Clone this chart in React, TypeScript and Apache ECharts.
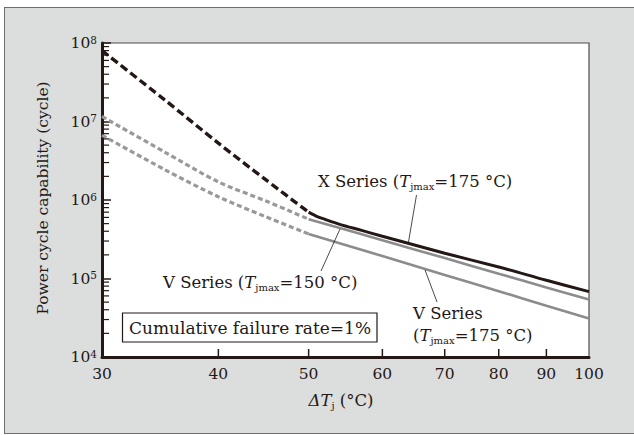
import React, { useEffect, useRef } from 'react';
import * as echarts from 'echarts';

// ---- data ----
const DASHED_T = [30, 35, 40, 45, 50];
const X_SERIES_DASHED = [8.0e7, 1.9e7, 5.3e6, 1.8e6, 7.0e5];
const X_SERIES_T = [50, 51, 52, 54, 57, 60, 70, 80, 90, 100];
const X_SERIES_SOLID = [7.0e5, 6.2e5, 5.7e5, 4.9e5, 4.1e5, 3.45e5, 2.1e5, 1.4e5, 9.5e4, 6.8e4];
const V_T = [50, 60, 70, 80, 90, 100];
const V150_DASHED = [1.16e7, 4.1e6, 1.7e6, 9.7e5, 5.7e5];
const V150_SOLID = [5.7e5, 3.07e5, 1.82e5, 1.15e5, 7.7e4, 5.4e4];
const V175_DASHED = [6.7e6, 2.45e6, 1.1e6, 6.1e5, 3.7e5];
const V175_SOLID = [3.7e5, 1.93e5, 1.11e5, 6.9e4, 4.5e4, 3.1e4];
const X_TICKS = [30, 40, 50, 60, 70, 80, 90, 100];
const Y_DECADES = [1e4, 1e5, 1e6, 1e7];
const Y_MINOR_STEPS = [2, 3, 4, 5, 6, 7, 8, 9];

const F = '"DejaVu Serif", "Liberation Serif", serif';
const INK = '#231815';
const GRAY = '#8c8c8c';
const GRAY_D = '#999999';

const rich = {
  r: { fontSize: 16.5, fontFamily: F, color: INK, lineHeight: 21 },
  i: { fontSize: 16.5, fontFamily: F, color: INK, fontStyle: 'italic', lineHeight: 21 },
  sub: { fontSize: 10, fontFamily: F, color: INK, verticalAlign: 'bottom', lineHeight: 13 },
};

const pair = (xs: number[], ys: number[]) => xs.map((x, i) => [x, ys[i]]);

export default function App() {
  const ref = useRef<HTMLDivElement>(null);
  useEffect(() => {
    if (!ref.current) return;
    const chart = echarts.init(ref.current, undefined, { renderer: 'svg' });
    const yMinor: number[][] = [];
    Y_DECADES.forEach((d) => Y_MINOR_STEPS.forEach((k) => yMinor.push([30, d * k])));

    const line = (name: string, data: number[][], color: string, width: number, dash: any) => ({
      type: 'line',
      name,
      data,
      showSymbol: false,
      symbol: 'none',
      smooth: 0.3,
      z: 3,
      lineStyle: { color, width, type: dash || 'solid', cap: 'butt' },
    });

    const txt = (x: number, y: number, text: string, extra: any = {}) => ({
      type: 'text',
      x,
      y,
      z: 20,
      style: { text, rich, fontSize: 16.5, fontFamily: F, fill: INK, align: 'left', verticalAlign: 'middle', ...extra },
    });
    const ptr = (x1: number, y1: number, x2: number, y2: number) => ({
      type: 'line',
      z: 20,
      shape: { x1, y1, x2, y2 },
      style: { stroke: INK, lineWidth: 0.8 },
    });

    chart.setOption({
      animation: false,
      grid: {
        left: 102,
        top: 43,
        width: 487,
        height: 314,
        show: true,
        backgroundColor: '#ffffff',
        borderColor: '#4d4d4d',
        borderWidth: 1.2,
      },
      xAxis: {
        type: 'log',
        logBase: 10,
        min: 30,
        max: 100,
        axisLine: { show: true, onZero: false, lineStyle: { color: INK, width: 3 } },
        axisTick: { show: false },
        axisLabel: { show: false },
        splitLine: { show: false },
        minorTick: { show: false },
      },
      yAxis: {
        type: 'log',
        logBase: 10,
        min: 1e4,
        max: 1e8,
        axisLine: { show: true, onZero: false, lineStyle: { color: INK, width: 3 } },
        axisTick: { show: true, inside: true, length: 9, lineStyle: { color: INK, width: 1.5 } },
        axisLabel: {
          margin: 5,
          formatter: (v: number) => `{b|10}{s|${Math.round(Math.log10(v))}}`,
          rich: {
            b: { fontSize: 15.5, fontFamily: F, color: INK, lineHeight: 18 },
            s: { fontSize: 10.5, fontFamily: F, color: INK, verticalAlign: 'top', lineHeight: 11 },
          },
        },
        splitLine: { show: false },
      },
      series: [
        line('X Series dashed', pair(DASHED_T, X_SERIES_DASHED), INK, 3.4, [8, 4]),
        line('X Series', pair(X_SERIES_T, X_SERIES_SOLID), INK, 3, null),
        line('V Series 150 dashed', pair(DASHED_T, V150_DASHED), GRAY_D, 3.2, [5, 3]),
        line('V Series 150', pair(V_T, V150_SOLID), GRAY, 2.6, null),
        line('V Series 175 dashed', pair(DASHED_T, V175_DASHED), GRAY_D, 3.2, [5, 3]),
        line('V Series 175', pair(V_T, V175_SOLID), GRAY, 2.6, null),
        {
          type: 'custom',
          name: 'x ticks',
          coordinateSystem: 'cartesian2d',
          silent: true,
          clip: false,
          z: 10,
          encode: { x: 0, y: 1 },
          data: X_TICKS.map((v) => [v, 1e4]),
          renderItem: (params: any, api: any) => {
            const v = api.value(0);
            const p = api.coord([v, 1e4]);
            const children: any[] = [];
            if (v !== X_TICKS[0] && v !== X_TICKS[X_TICKS.length - 1]) {
              children.push({
                type: 'line',
                shape: { x1: p[0], y1: p[1], x2: p[0], y2: p[1] - 8 },
                style: { stroke: INK, lineWidth: 1.5 },
              });
            }
            children.push({
              type: 'text',
              style: {
                text: String(v),
                x: p[0],
                y: p[1] + 17,
                align: 'center',
                verticalAlign: 'middle',
                fontSize: 15.5,
                fontFamily: F,
                fill: INK,
              },
            });
            return { type: 'group', children };
          },
        },
        {
          type: 'custom',
          name: 'y minor ticks',
          coordinateSystem: 'cartesian2d',
          silent: true,
          clip: false,
          z: 10,
          encode: { x: 0, y: 1 },
          data: yMinor,
          renderItem: (params: any, api: any) => {
            const p = api.coord([api.value(0), api.value(1)]);
            return {
              type: 'line',
              shape: { x1: p[0], y1: p[1], x2: p[0] + 7, y2: p[1] },
              style: { stroke: INK, lineWidth: 1.2 },
            };
          },
        },
      ],
      graphic: [
        {
          type: 'text',
          x: 43,
          y: 198,
          rotation: Math.PI / 2,
          z: 20,
          style: {
            text: 'Power cycle capability (cycle)',
            fontSize: 15.5,
            fontFamily: F,
            fill: INK,
            align: 'center',
            verticalAlign: 'middle',
          },
        },
        txt(341, 400, '{i|ΔT}{sub|j}{r| (°C)}', { align: 'center' }),
        txt(318, 181, '{r|X Series (}{i|T}{sub|jmax}{r|=175 °C)}'),
        txt(163, 282, '{r|V Series (}{i|T}{sub|jmax}{r|=150 °C)}'),
        txt(413, 313, '{r|V Series}'),
        txt(413, 335, '{r|(}{i|T}{sub|jmax}{r|=175 °C)}'),
        {
          type: 'rect',
          z: 20,
          shape: { x: 122.5, y: 313, width: 254.5, height: 29 },
          style: { fill: '#ffffff', stroke: INK, lineWidth: 1.2 },
        },
        txt(250, 328, 'Cumulative failure rate=1%', { align: 'center', fontSize: 17 }),
        ptr(416.5, 195, 408.5, 242),
        ptr(321, 271, 340, 229),
        ptr(437, 302, 425, 270),
      ],
    });
    return () => chart.dispose();
  }, []);

  return (
    <div style={{ position: 'fixed', left: 0, top: 0, width: 634, height: 435, background: '#ffffff' }}>
      <div
        style={{
          position: 'absolute',
          left: 4,
          top: 7,
          width: 660,
          height: 425,
          background: '#dcdddd',
          border: '1px solid #6e6e6e',
        }}
      />
      <div ref={ref} style={{ position: 'absolute', left: 0, top: 0, width: 634, height: 435 }} />
    </div>
  );
}
